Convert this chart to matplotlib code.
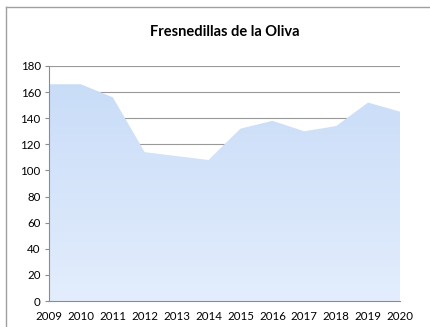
import matplotlib.pyplot as plt
import numpy as np
from matplotlib.patches import Polygon
from matplotlib.lines import Line2D

years = [2009, 2010, 2011, 2012, 2013, 2014, 2015, 2016, 2017, 2018, 2019, 2020]
values = [166, 166, 156, 114, 111, 108, 132, 138, 130, 134, 152, 145]
yticks = [0, 20, 40, 60, 80, 100, 120, 140, 160, 180]

plt.rcParams['font.family'] = ['Lato', 'DejaVu Sans']

fig = plt.figure(figsize=(4.3, 3.27), dpi=100)
ax = fig.add_axes([49 / 430, 26 / 327, 351 / 430, 235 / 327])

grey = '#8c8c8c'
for y in yticks[1:]:
    ax.axhline(y, color='#999999', lw=0.8, zorder=1)

# area with vertical gradient, clipped to the series outline
xs = np.array(years, dtype=float)
ys = np.array(values, dtype=float)
verts = [(xs[0], 0)] + list(zip(xs, ys)) + [(xs[-1], 0)]
poly = Polygon(verts, closed=True, facecolor='none', edgecolor='none')
ax.add_patch(poly)
grad = np.linspace(0, 1, 256).reshape(-1, 1)
top = np.array([0.78, 0.86, 0.97])
bottom = np.array([0.89, 0.93, 0.99])
img = top * (1 - grad[..., None]) + bottom * grad[..., None]
im = ax.imshow(img, extent=[xs[0], xs[-1], 0, 180], origin='upper',
               aspect='auto', zorder=2)
im.set_clip_path(poly)

ax.set_xlim(years[0], years[-1])
ax.set_ylim(0, 180)
ax.set_yticks(yticks)
ax.set_xticks(years)
ax.set_xticklabels([str(y) for y in years], fontsize=8.3)
ax.tick_params(axis='y', labelsize=8.3, length=3, color=grey, pad=3)
ax.tick_params(axis='x', length=0, pad=7)
for s in ['top', 'right']:
    ax.spines[s].set_visible(False)
for s in ['left', 'bottom']:
    ax.spines[s].set_color(grey)
    ax.spines[s].set_zorder(3)

fig.text((49 + 400) / 2 / 430, 1 - 32 / 327, 'Fresnedillas de la Oliva',
         ha='center', va='center', fontsize=10.5, fontweight='bold')

# chart frame edges
fig.add_artist(Line2D([6 / 430, 1], [1 - 7 / 327] * 2, color='#a0a0a0', lw=1))
fig.add_artist(Line2D([6 / 430] * 2, [0, 1 - 7 / 327], color='#a0a0a0', lw=1))

fig.savefig('out.png', dpi=100)
